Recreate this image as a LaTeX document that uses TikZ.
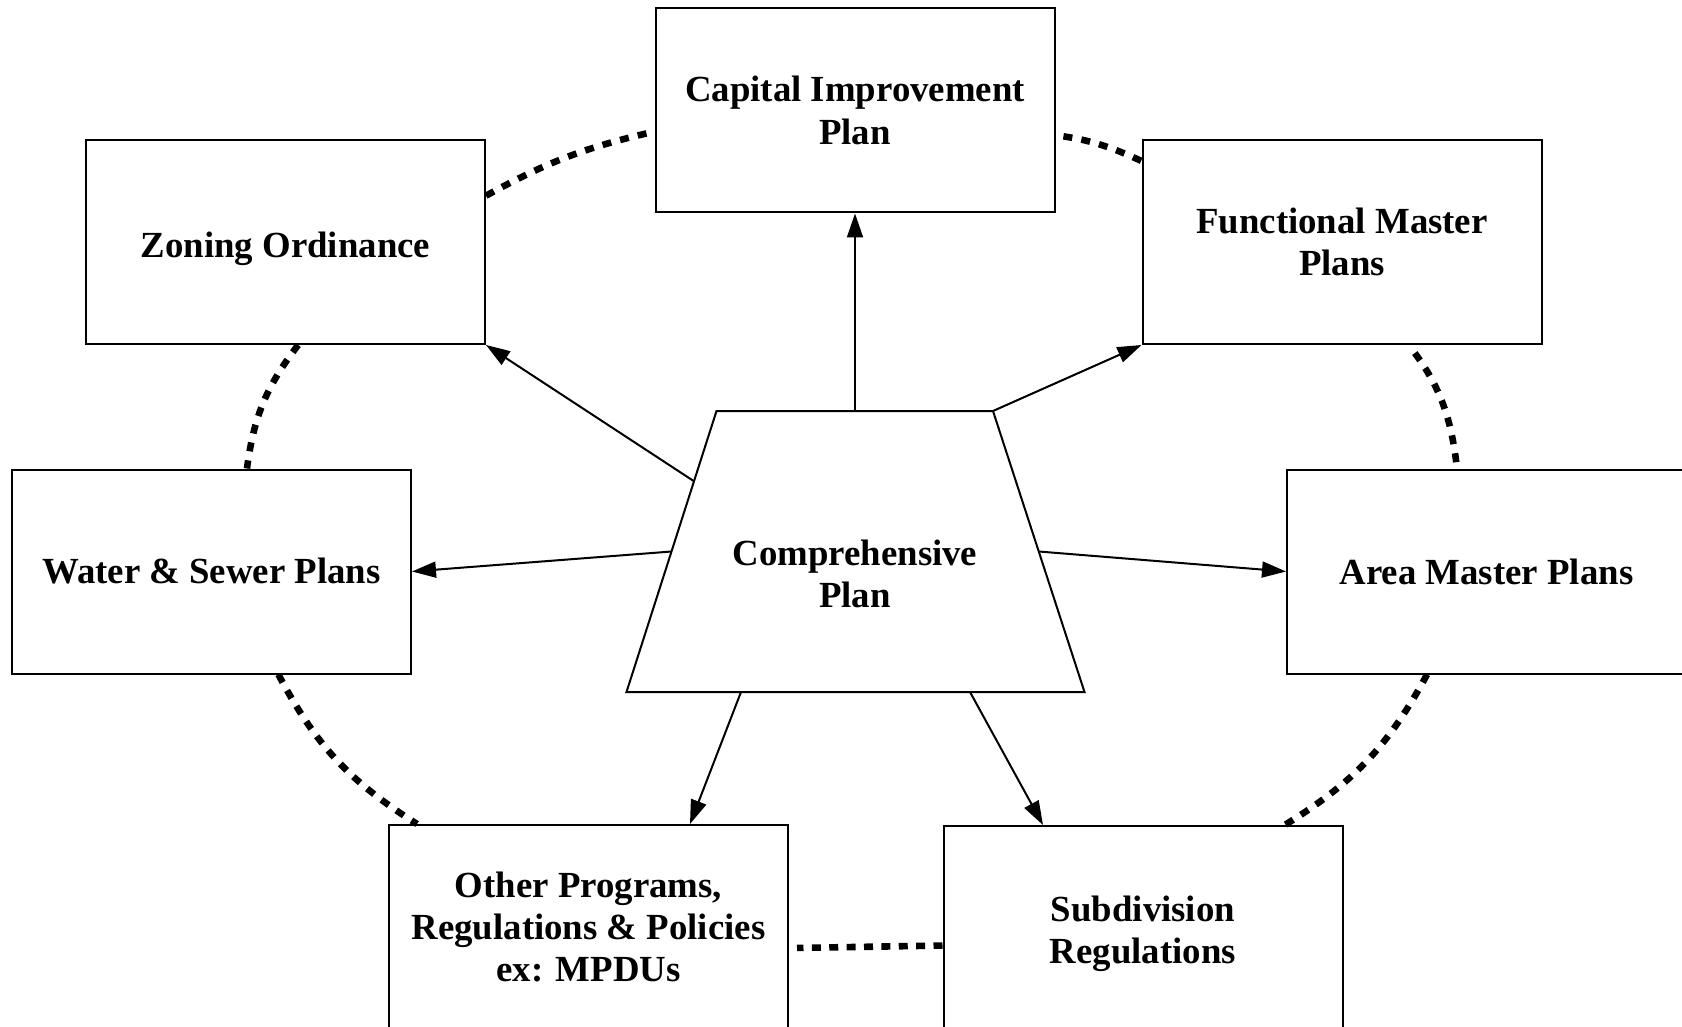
\documentclass[tikz,border=0pt]{standalone}
\usepackage{fontspec}
\setmainfont{Liberation Serif}
\usetikzlibrary{arrows.meta,calc}

% lower a line of text without changing the space it takes
\newcommand\droptext[2]{\raisebox{-#1}[\height][\depth]{#2}}

\begin{document}
\begin{tikzpicture}[x=0.5pt,y=-0.5pt,
  labelfont/.style={font=\fontsize{18.4}{21.2}\selectfont\bfseries},
  box/.style={draw, line width=1pt, minimum width=199.5pt, minimum height=102pt,
              inner sep=0pt, align=center, labelfont},
  feed/.style={-{Triangle[length=12pt,width=8pt]}, line width=1pt},
  link/.style={line width=3.3pt, dash pattern=on 4.5pt off 4.6pt},
]
\useasboundingbox (0,0) rectangle (1682,1027);
\clip (0,0) rectangle (1682,1027);

% surrounding plans and regulations
\node[box] (ci) at (855,110.5)  {Capital Improvement\\Plan};
\node[box] (zo) at (285.5,242)  {\droptext{3.2pt}{Zoning Ordinance}};
\node[box] (fm) at (1342,242)   {Functional Master\\Plans};
\node[box] (ws) at (211.5,571.5){Water \& Sewer Plans};
\node[box] (am) at (1486.5,571.5){Area Master Plans};
\node[box] (ot) at (588.5,927)  {Other Programs,\\Regulations \& Policies\\ex: MPDUs};
\node[box] (sb) at (1143,928)   {\droptext{2.8pt}{Subdivision}\\\droptext{2.8pt}{Regulations}};

% the comprehensive plan in the centre
\coordinate (tl) at (716.5,411);
\coordinate (tr) at (993,411);
\coordinate (br) at (1084.5,692);
\coordinate (bl) at (626.5,692);
\draw[line width=1pt, fill=white] (tl) -- (tr) -- (br) -- (bl) -- cycle;
\node[align=center, labelfont] (cp) at (855,574) {Comprehensive\\Plan};

% what the comprehensive plan feeds
\draw[feed] (ci.south |- tl) -- (ci.south);
\draw[feed] (tr) -- (fm.south west);
\draw[feed] ($(tl)!0.25!(bl)$) -- (zo.south east);
\draw[feed] ($(tl)!0.5!(bl)$) -- (ws.east);
\draw[feed] ($(tr)!0.5!(br)$) -- (am.west);
\draw[feed] ($(bl)!0.25!(br)$) -- ([xshift=50.75pt]ot.north);
\draw[feed] ($(bl)!0.75!(br)$) -- ([xshift=-50pt]sb.north);

% dotted ring of related documents
\draw[link] (zo.13.8) to[bend left=8] (ci.186.4);
\draw[link, shorten <=4pt] (ci.-7.3) to[bend left=8] (fm.158);
\draw[link, shorten <=5pt] (fm.-57.5) to[bend left=15] (am.106);
\draw[link] (am.-120.1) to[bend left=15] (sb.36.9);
\draw[link, dash pattern=on 4.5pt off 4.19pt, shorten >=4pt] (sb.185.2) -- (ot.-6.2);
\draw[link] (ws.-57.8) to[bend right=15] (ot.149.1);
\draw[link] (zo.-83.6) to[bend right=15] (ws.71.4);
\end{tikzpicture}
\end{document}
